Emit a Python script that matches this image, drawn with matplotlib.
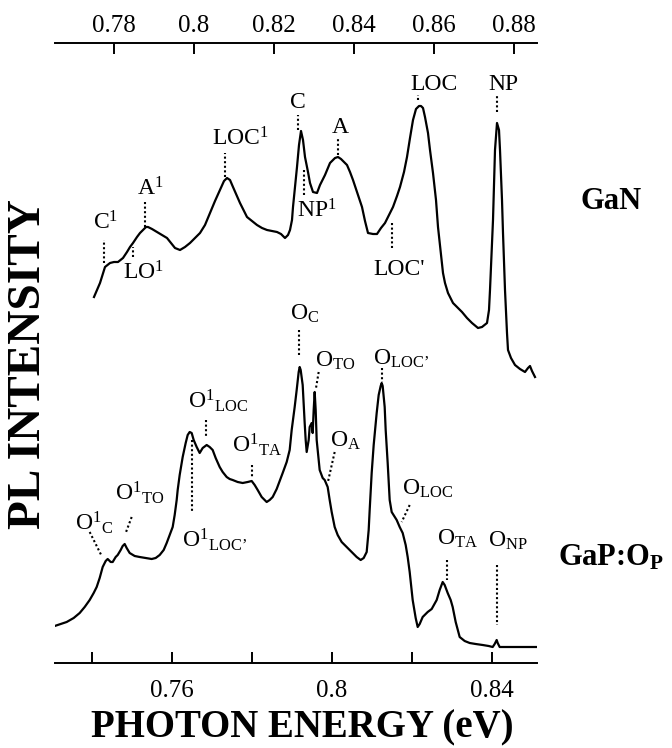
import matplotlib
matplotlib.use("Agg")
import matplotlib.pyplot as plt

# PL spectra, intensity in arbitrary units
# GaN sample (top energy axis)
gan_e = [0.775, 0.77575, 0.7765, 0.77775, 0.779, 0.780, 0.781, 0.78225, 0.78325, 0.784,
         0.78475, 0.78575, 0.7865, 0.78725, 0.788, 0.7885, 0.7895, 0.79075, 0.792, 0.79325,
         0.79425, 0.79525, 0.7965, 0.79775, 0.799, 0.80025, 0.8015, 0.80275, 0.804, 0.80525,
         0.8065, 0.8075, 0.80825, 0.809, 0.80975, 0.81075, 0.8115, 0.8125, 0.81325, 0.8145,
         0.81575, 0.817, 0.81825, 0.8195, 0.82075, 0.82175, 0.82275, 0.8235, 0.824, 0.8245,
         0.82475, 0.82525, 0.82575, 0.82625, 0.82675, 0.82725, 0.82775, 0.8285, 0.829, 0.82975,
         0.83075, 0.8315, 0.83275, 0.834, 0.83525, 0.836, 0.83675, 0.8375, 0.83825, 0.839,
         0.83975, 0.84075, 0.842, 0.84275, 0.8435, 0.84475, 0.84575, 0.84675, 0.84775, 0.84875,
         0.84975, 0.85075, 0.8515, 0.8525, 0.85325, 0.854, 0.85475, 0.8555, 0.85625, 0.85675,
         0.85725, 0.85775, 0.8585, 0.859, 0.85975, 0.8605, 0.861, 0.86175, 0.86225, 0.86275,
         0.8635, 0.86475, 0.86575, 0.867, 0.86825, 0.8695, 0.871, 0.872, 0.87325, 0.87375,
         0.874, 0.87425, 0.87475, 0.875, 0.87525, 0.87575, 0.87625, 0.8765, 0.877, 0.87725,
         0.87775, 0.87825, 0.8785, 0.87925, 0.88025, 0.8815, 0.88275, 0.8835, 0.884, 0.8845,
         0.88525]
gan_i = [366, 373, 380, 396, 400, 401, 401, 405, 411, 416,
         420, 426, 430, 433, 436, 436, 434, 431, 428, 425,
         420, 415, 413, 416, 420, 425, 430, 438, 450, 462,
         473, 482, 485, 483, 476, 467, 460, 452, 446, 442,
         438, 435, 433, 432, 431, 429, 425, 428, 433, 443,
         456, 476, 496, 518, 532, 523, 506, 491, 480, 471,
         470, 478, 488, 500, 505, 506, 504, 501, 498, 491,
         483, 471, 456, 442, 430, 429, 429, 435, 440, 448,
         456, 467, 476, 491, 506, 525, 543, 554, 557, 557,
         555, 546, 530, 513, 490, 463, 436, 408, 390, 380,
         370, 360, 356, 351, 345, 340, 335, 336, 340, 353,
         373, 396, 443, 478, 513, 540, 533, 513, 463, 430,
         373, 330, 313, 305, 298, 294, 291, 295, 297, 292,
         286]

# GaP:O sample (bottom energy axis)
gap_e = [0.73075, 0.73225, 0.73375, 0.7355, 0.737, 0.73825, 0.7395, 0.7405, 0.74125, 0.742,
         0.74275, 0.7435, 0.744, 0.74475, 0.74525, 0.746, 0.7465, 0.74725, 0.74775, 0.74825,
         0.74875, 0.7495, 0.75075, 0.752, 0.7535, 0.755, 0.756, 0.757, 0.758, 0.75875,
         0.7595, 0.76025, 0.76075, 0.76125, 0.7615, 0.762, 0.76275, 0.7635, 0.764, 0.7645,
         0.765, 0.7655, 0.76625, 0.767, 0.76775, 0.76875, 0.7695, 0.77025, 0.771, 0.772,
         0.77275, 0.77375, 0.7745, 0.77525, 0.7765, 0.77775, 0.779, 0.78, 0.78075, 0.7815,
         0.7825, 0.78375, 0.7845, 0.78525, 0.78625, 0.787, 0.78775, 0.78875, 0.7895, 0.79,
         0.79075, 0.79125, 0.79175, 0.792, 0.79225, 0.79275, 0.793, 0.79325, 0.7935, 0.79375,
         0.79425, 0.7945, 0.79475, 0.795, 0.79525, 0.7955, 0.79575, 0.796, 0.79625, 0.79675,
         0.797, 0.79775, 0.79825, 0.799, 0.7995, 0.8, 0.80075, 0.8015, 0.8025, 0.80375,
         0.805, 0.80625, 0.80725, 0.808, 0.80875, 0.80925, 0.8095, 0.81, 0.8105, 0.81125,
         0.81175, 0.81225, 0.8125, 0.81275, 0.81325, 0.8135, 0.814, 0.8145, 0.815, 0.81625,
         0.817, 0.81775, 0.8185, 0.819, 0.8195, 0.82025, 0.821, 0.8215, 0.822, 0.82275,
         0.824, 0.825, 0.82625, 0.827, 0.82775, 0.82825, 0.829, 0.82975, 0.83025, 0.831,
         0.832, 0.83325, 0.8345, 0.836, 0.83775, 0.83925, 0.84025, 0.84075, 0.84125, 0.8415,
         0.842, 0.84325, 0.8445, 0.847, 0.85025, 0.85125]
gap_i = [37, 39, 41, 45, 50, 56, 63, 70, 76, 85,
         96, 102, 104, 101, 101, 106, 108, 113, 117, 119,
         115, 110, 107, 106, 105, 104, 105, 108, 113, 120,
         128, 136, 148, 163, 173, 188, 206, 220, 228, 231,
         230, 223, 216, 210, 215, 218, 216, 213, 205, 196,
         191, 186, 184, 183, 181, 180, 181, 182, 178, 173,
         166, 161, 163, 166, 174, 182, 190, 201, 213, 233,
         256, 273, 291, 296, 293, 278, 258, 240, 223, 211,
         223, 236, 238, 240, 230, 253, 271, 253, 223, 203,
         193, 185, 183, 176, 163, 151, 136, 128, 121, 116,
         111, 106, 103, 105, 111, 133, 153, 190, 218, 250,
         268, 277, 280, 277, 256, 233, 200, 163, 151, 143,
         136, 130, 118, 106, 91, 63, 45, 36, 39, 46,
         51, 54, 63, 73, 81, 78, 70, 63, 56, 41,
         26, 22, 20, 19, 18, 17, 16, 19, 23, 20,
         16, 16, 16, 16, 16, 16]

# peak labels, GaN
gan_labels = ['C$^1$', 'A$^1$', 'LO$^1$', 'LOC$^1$', 'C', 'NP$^1$', 'A', "LOC'", 'LOC', 'NP']
gan_mark_e = [0.7775, 0.78775, 0.78475, 0.80775, 0.826, 0.8275, 0.836, 0.8495, 0.856, 0.87575]
gan_mark_i0 = [400, 436, 406, 486, 533, 468, 508, 415, 563, 551]
gan_mark_i1 = [423, 463, 416, 510, 548, 493, 525, 440, 568, 568]
gan_text_e = [0.77475, 0.78575, 0.78225, 0.8045, 0.824, 0.82575, 0.8345, 0.84475, 0.854, 0.8735]
gan_text_i = [433, 468, 384, 518, 555, 446, 530, 388, 573, 573]

# peak labels, GaP:O
gap_labels = [r'O$^{1}{}_{\mathrm{C}}$', r'O$^{1}{}_{\mathrm{TO}}$', r'O$^{1}{}_{\mathrm{LOC}}$',
              r'O$^{1}{}_{\mathrm{LOC’}}$', r'O$^{1}{}_{\mathrm{TA}}$', r'O$_{\mathrm{C}}$',
              r'O$_{\mathrm{TO}}$', r'O$_{\mathrm{A}}$', r'O$_{\mathrm{LOC’}}$',
              r'O$_{\mathrm{LOC}}$', r'O$_{\mathrm{TA}}$', r'O$_{\mathrm{NP}}$']
gap_mark_e0 = [0.7395, 0.75, 0.7685, 0.765, 0.78, 0.79175, 0.79675, 0.80075, 0.8125, 0.8195, 0.82875, 0.84125]
gap_mark_e1 = [0.7425, 0.7485, 0.7685, 0.765, 0.78, 0.79175, 0.796, 0.799, 0.8125, 0.8175, 0.82875, 0.84125]
gap_mark_i0 = [131, 146, 243, 223, 198, 333, 291, 211, 295, 158, 103, 98]
gap_mark_i1 = [107, 130, 226, 150, 186, 308, 273, 180, 281, 141, 83, 38]
gap_text_e = [0.73575, 0.74575, 0.764, 0.7625, 0.775, 0.7895, 0.79575, 0.7995, 0.81025, 0.8175, 0.82625, 0.839]
gap_text_i = [133, 163, 255, 116, 211, 343, 296, 216, 298, 168, 118, 116]

bottom_ticks = [0.76, 0.80, 0.84]
bottom_tick_labels = ['0.76', '0.8', '0.84']
bottom_minor = [0.74, 0.78, 0.82]
top_ticks = [0.78, 0.80, 0.82, 0.84, 0.86, 0.88]
top_tick_labels = ['0.78', '0.8', '0.82', '0.84', '0.86', '0.88']

plt.rcParams['font.family'] = ['Liberation Serif', 'DejaVu Serif']
plt.rcParams['mathtext.fontset'] = 'custom'
plt.rcParams['mathtext.rm'] = 'Liberation Serif'
plt.rcParams['mathtext.it'] = 'Liberation Serif:italic'
plt.rcParams['mathtext.bf'] = 'Liberation Serif:bold'

fig = plt.figure(figsize=(6.72, 7.48), dpi=100)
ax = fig.add_axes([55 / 672, 1 - 663 / 748, 482 / 672, 620 / 748])
ax2 = ax.twiny()

ax.plot(gap_e, gap_i, color='black', lw=1.6)
ax2.plot(gan_e, gan_i, color='black', lw=1.6)

dots = (0, (1, 1.2))
for lab, me, i0, i1, te, ti in zip(gan_labels, gan_mark_e, gan_mark_i0, gan_mark_i1, gan_text_e, gan_text_i):
    ax2.plot([me, me], [i0, i1], color='black', lw=1.5, ls=dots)
    ax2.text(te, ti, lab, fontsize=17, ha='left', va='baseline')

for lab, e0, e1, i0, i1, te, ti in zip(gap_labels, gap_mark_e0, gap_mark_e1, gap_mark_i0, gap_mark_i1, gap_text_e, gap_text_i):
    ax.plot([e0, e1], [i0, i1], color='black', lw=1.5, ls=dots)
    ax.text(te, ti, lab, fontsize=17, ha='left', va='baseline')

ax.set_xlim(0.73083, 0.85133)
ax2.set_xlim(0.76525, 0.88575)
ax.set_ylim(0, 620)

ax.set_xticks(bottom_ticks)
ax.set_xticklabels(bottom_tick_labels)
ax.set_xticks(bottom_minor, minor=True)
ax.tick_params(axis='x', which='both', direction='in', length=8, width=1.4, labelsize=18, pad=12)
ax.tick_params(axis='y', left=False, labelleft=False)
ax2.set_xticks(top_ticks)
ax2.set_xticklabels(top_tick_labels)
ax2.tick_params(axis='x', direction='in', length=8, width=1.4, labelsize=18, pad=4)
ax2.tick_params(axis='y', left=False, right=False, labelleft=False, labelright=False)

for s in ['left', 'right', 'top']:
    ax.spines[s].set_visible(False)
for s in ['left', 'right', 'bottom']:
    ax2.spines[s].set_visible(False)
ax.spines['bottom'].set_linewidth(1.4)
ax2.spines['top'].set_linewidth(1.4)

fig.text(580 / 672, 1 - 209 / 748, 'GaN', fontsize=22, fontweight='bold', ha='left', va='baseline')
fig.text(558 / 672, 1 - 565 / 748, r'GaP:O$_{\mathbf{P}}$', fontsize=22, fontweight='bold', ha='left', va='baseline')
fig.text(29 / 672, 1 - 364 / 748, 'PL INTENSITY', fontsize=34, fontweight='bold',
         rotation=90, ha='center', va='center')
fig.text(302 / 672, 1 - 737 / 748, 'PHOTON ENERGY (eV)', fontsize=28, fontweight='bold',
         ha='center', va='baseline')

fig.savefig('out.png', dpi=100)
